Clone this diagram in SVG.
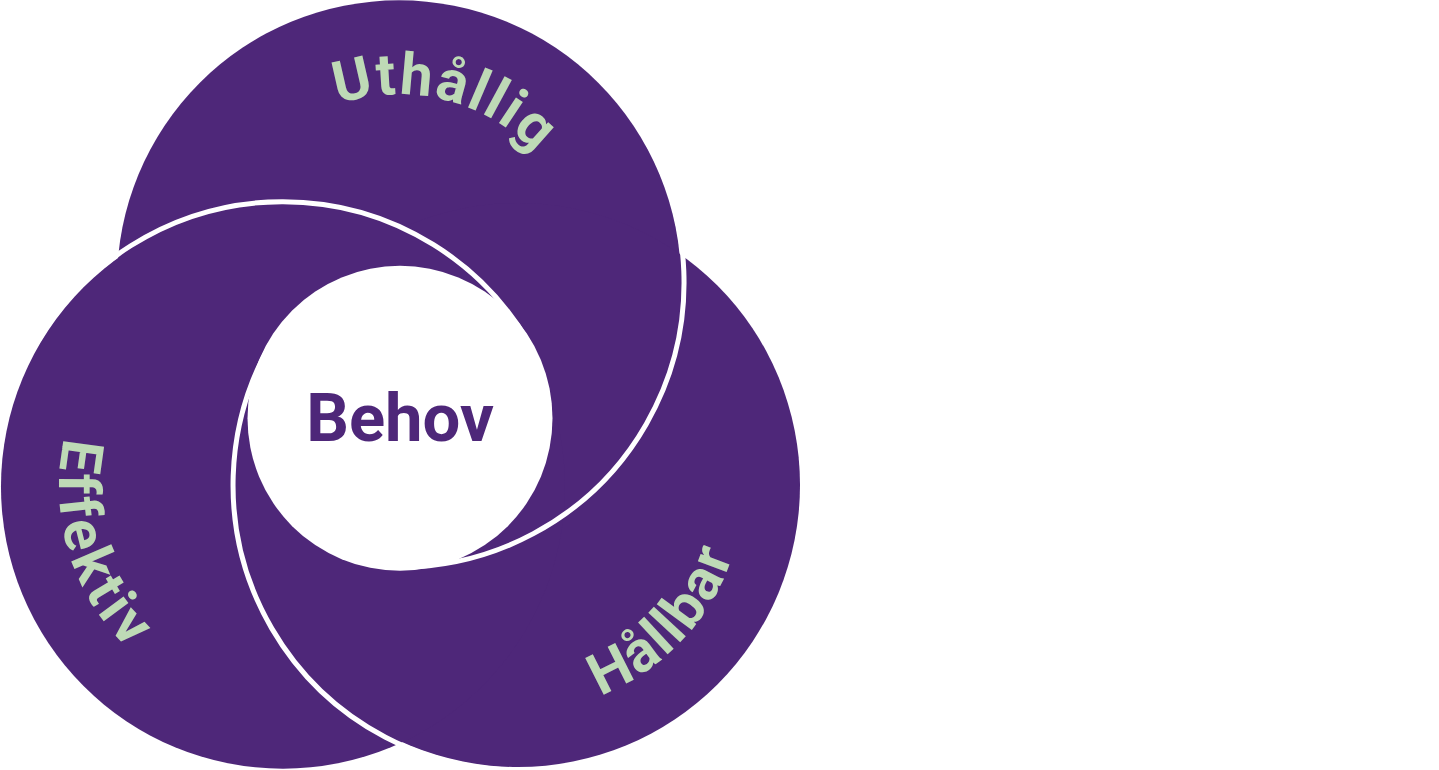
<svg xmlns="http://www.w3.org/2000/svg" width="1439" height="770" viewBox="0 0 1439 770">
<style>
.disc{fill:#4E2779}
.ring{fill:none;stroke:#FFFFFF;stroke-width:5}
.lbl{font-family:Roboto,"Liberation Sans",sans-serif;font-weight:700;font-size:58px;fill:#BEDAB6;letter-spacing:2px}
.wide{letter-spacing:4.5px}
.core{fill:#FFFFFF}
.core-t{font-family:Roboto,"Liberation Sans",sans-serif;font-weight:700;font-size:67px;fill:#4E2779}
</style>
<defs>
<path id="pU" d="M 211.02 282.31 A 188 188 0 0 1 587.02 282.31"/>
<path id="pE" d="M 282.98 262.69 A 224 224 0 0 0 282.98 710.69"/>
<path id="pH" d="M 292 485 A 226 226 0 0 0 744 485"/>
</defs>
<rect width="1439" height="770" fill="#FFFFFF"/>
<g id="node-uthallig">
<circle class="disc" cx="399.02" cy="282.31" r="282"/>
<text class="lbl" text-anchor="middle"><textPath href="#pU" startOffset="341.2">Uthållig</textPath></text>
</g>
<g id="node-hallbar">
<circle class="disc" cx="518" cy="485" r="282"/>
<text class="lbl" text-anchor="middle"><textPath href="#pH" startOffset="539.6">Hållbar</textPath></text>
</g>
<g id="node-effektiv">
<circle class="disc" cx="282.98" cy="486.69" r="282"/>
<text class="lbl wide" text-anchor="middle"><textPath href="#pE" startOffset="420">Effektiv</textPath></text>
</g>
<g id="outlines">
<path class="ring" d="M 518 770 A 285 285 0 0 1 270.2 344.3"/>
<path class="ring" d="M 36.16 344.19 A 285 285 0 0 1 528.76 342.42"/>
<path class="ring" d="M 645.84 139.81 A 285 285 0 0 1 401.08 567.31"/>
</g>
<g id="node-behov">
<circle class="core" cx="400" cy="418.3" r="152.5"/>
<text class="core-t" x="400" y="441" text-anchor="middle">Behov</text>
</g>
</svg>
